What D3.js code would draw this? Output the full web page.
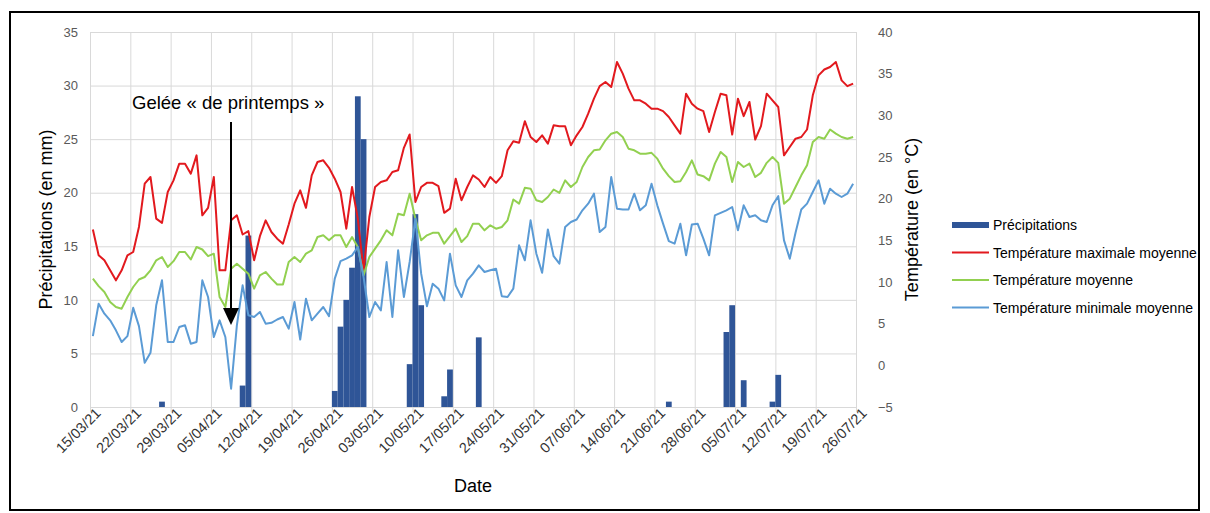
<!DOCTYPE html>
<html>
<head>
<meta charset="utf-8">
<script src="https://cdn.jsdelivr.net/npm/d3@7"></script>
<style>
  body { margin: 0; background: #fff; }
  svg text { font-family: "Liberation Sans", Arial, sans-serif; }
</style>
</head>
<body>
<svg id="chart"></svg>
<script>
// daily values, 15/03/21 onwards
const startDate = new Date(2021, 2, 15);
const tickLabels = ['15/03/21', '22/03/21', '29/03/21', '05/04/21', '12/04/21', '19/04/21', '26/04/21',
  '03/05/21', '10/05/21', '17/05/21', '24/05/21', '31/05/21', '07/06/21', '14/06/21', '21/06/21',
  '28/06/21', '05/07/21', '12/07/21', '19/07/21', '26/07/21'];

const tMax = [
  16.3, 13.2, 12.6, 11.4, 10.2, 11.4, 13.2, 13.6, 16.6, 21.8,
  22.6, 17.6, 17.1, 20.8, 22.2, 24.2, 24.2, 23.0, 25.2, 18.0,
  18.9, 22.6, 11.4, 11.4, 17.4, 18.0, 15.7, 16.1, 12.6, 15.5,
  17.4, 16.0, 15.2, 14.6, 16.9, 19.4, 21.0, 18.9, 22.8, 24.4,
  24.6, 23.7, 22.4, 20.8, 16.4, 21.4, 17.6, 11.4, 17.8, 21.4,
  22.0, 22.2, 23.2, 23.4, 26.1, 27.7, 19.6, 21.4, 21.9, 21.9,
  21.5, 18.3, 18.8, 22.4, 19.8, 21.4, 22.8, 22.3, 21.4, 22.6,
  21.9, 22.7, 25.8, 26.9, 26.7, 29.3, 27.4, 26.8, 27.6, 26.6,
  28.8, 28.7, 28.7, 26.4, 27.6, 28.6, 30.2, 32.0, 33.5, 34.0,
  33.4, 36.4, 35.0, 33.2, 31.8, 31.8, 31.4, 30.8, 30.8, 30.5,
  29.8, 28.8, 27.8, 32.6, 31.4, 30.8, 30.5, 28.0, 30.4, 32.6,
  32.4, 27.7, 32.0, 29.9, 31.6, 27.1, 28.7, 32.6, 31.8, 31.0,
  25.2, 26.2, 27.2, 27.4, 28.3, 32.4, 34.8, 35.5, 35.8, 36.4,
  34.2, 33.5, 33.8
];

const tMoy = [
  10.4, 9.5, 8.8, 7.6, 7.0, 6.8, 8.2, 9.4, 10.3, 10.6,
  11.4, 12.6, 13.0, 11.8, 12.5, 13.6, 13.6, 12.7, 14.2, 13.9,
  13.1, 13.4, 8.2, 7.0, 11.6, 12.2, 11.6, 11.0, 9.2, 10.8,
  11.2, 10.4, 9.7, 9.7, 12.4, 13.0, 12.4, 13.4, 13.8, 15.4,
  15.6, 15.0, 15.6, 15.6, 14.2, 15.4, 14.2, 10.8, 13.0, 14.0,
  15.0, 16.2, 15.6, 18.2, 18.0, 20.6, 17.6, 15.0, 15.6, 15.9,
  15.9, 14.6, 15.5, 16.4, 14.8, 15.5, 17.0, 17.0, 16.2, 16.8,
  16.4, 16.6, 17.4, 19.9, 19.4, 21.3, 21.2, 19.8, 19.6, 20.2,
  21.1, 20.7, 22.2, 21.4, 22.0, 23.8, 25.0, 25.8, 25.9, 27.0,
  27.8, 28.0, 27.4, 26.0, 25.8, 25.4, 25.4, 25.5, 24.8, 23.6,
  22.7, 22.0, 22.1, 23.2, 24.6, 22.9, 22.7, 22.2, 24.2, 25.6,
  25.0, 22.0, 24.4, 23.8, 24.2, 22.6, 23.1, 24.3, 25.0, 24.3,
  19.4, 20.0, 21.4, 22.8, 24.0, 26.8, 27.4, 27.2, 28.3, 27.8,
  27.4, 27.2, 27.4
];

const tMin = [
  3.5, 7.4, 6.2, 5.4, 4.2, 2.8, 3.5, 6.9, 4.7, 0.3,
  1.5, 7.2, 10.2, 2.8, 2.8, 4.6, 4.8, 2.6, 2.8, 10.2,
  8.2, 3.4, 5.4, 3.4, -2.8, 4.8, 9.6, 6.0, 5.8, 6.4,
  5.0, 5.1, 5.5, 5.8, 4.4, 7.6, 3.1, 8.0, 5.4, 6.2,
  7.0, 5.9, 10.4, 12.5, 12.8, 13.2, 14.2, 10.6, 5.8, 7.6,
  6.6, 12.4, 5.8, 13.8, 8.2, 12.4, 17.6, 11.0, 7.1, 9.8,
  9.2, 7.8, 13.4, 9.6, 8.2, 10.2, 11.0, 12.0, 11.2, 11.4,
  11.6, 8.3, 8.2, 9.2, 14.4, 12.6, 17.4, 13.4, 11.1, 16.3,
  13.1, 12.2, 16.6, 17.2, 17.5, 18.6, 19.4, 20.6, 16.0, 16.6,
  22.6, 18.8, 18.7, 18.7, 20.6, 18.6, 19.2, 21.8, 19.2, 17.0,
  14.9, 14.6, 17.0, 13.2, 16.9, 17.0, 15.2, 13.2, 18.0, 18.3,
  18.6, 19.0, 16.2, 19.2, 17.8, 18.0, 17.4, 17.2, 19.2, 20.3,
  15.0, 12.8, 15.9, 18.7, 19.4, 20.8, 22.2, 19.4, 21.2, 20.6,
  20.2, 20.6, 21.8
];

const precip = [
  0, 0, 0, 0, 0, 0, 0, 0, 0, 0,
  0, 0, 0.5, 0, 0, 0, 0, 0, 0, 0,
  0, 0, 0, 0, 0, 0, 2, 16, 0, 0,
  0, 0, 0, 0, 0, 0, 0, 0, 0, 0,
  0, 0, 1.5, 7.5, 10, 13, 29, 25, 0, 0,
  0, 0, 0, 0, 0, 4, 18, 9.5, 0, 0,
  0, 1, 3.5, 0, 0, 0, 0, 6.5, 0, 0,
  0, 0, 0, 0, 0, 0, 0, 0, 0, 0,
  0, 0, 0, 0, 0, 0, 0, 0, 0, 0,
  0, 0, 0, 0, 0, 0, 0, 0, 0, 0,
  0.5, 0, 0, 0, 0, 0, 0, 0, 0, 0,
  7, 9.5, 0, 2.5, 0, 0, 0, 0, 0.5, 3,
  0, 0, 0, 0, 0, 0, 0, 0, 0, 0,
  0, 0, 0
];

const precipTicks = [0, 5, 10, 15, 20, 25, 30, 35];
const tempTicks = [-5, 0, 5, 10, 15, 20, 25, 30, 35, 40];

const seriesNames = ['Précipitations', 'Température maximale moyenne', 'Température moyenne', 'Température minimale moyenne'];
const seriesColors = ['#2f5597', '#e2191e', '#92d050', '#5b9bd5'];

const W = 1210, H = 513;
const margin = {top: 32, right: 354, bottom: 106, left: 90};
const innerW = W - margin.left - margin.right;
const innerH = H - margin.top - margin.bottom;

const parseDay = d3.timeParse('%d/%m/%y');
const dayDate = i => new Date(2021, 2, 15 + i, 12);   // points sit mid-day

const svg = d3.select('#chart').attr('width', W).attr('height', H);

// outer frame
svg.append('rect')
  .attr('x', 10).attr('y', 12).attr('width', 1189).attr('height', 498)
  .attr('fill', 'none').attr('stroke', '#000').attr('stroke-width', 2);

const g = svg.append('g').attr('transform', `translate(${margin.left},${margin.top})`);

const x = d3.scaleTime()
  .domain([startDate, parseDay('26/07/21')])
  .range([0, innerW]);
const yP = d3.scaleLinear().domain([0, 35]).range([innerH, 0]);
const yT = d3.scaleLinear().domain([-5, 40]).range([innerH, 0]);

const tickDates = tickLabels.map(parseDay);

// gridlines
g.append('g')
  .call(d3.axisLeft(yP).tickValues(precipTicks).tickSize(-innerW).tickFormat(''))
  .call(s => s.select('.domain').remove())
  .selectAll('line').attr('stroke', '#d9d9d9');
g.append('g')
  .attr('transform', `translate(0,${innerH})`)
  .call(d3.axisBottom(x).tickValues(tickDates).tickSize(-innerH).tickFormat(''))
  .call(s => s.select('.domain').remove())
  .selectAll('line').attr('stroke', '#d9d9d9');

// x axis with rotated labels
const xAxisG = g.append('g')
  .attr('transform', `translate(0,${innerH})`)
  .call(d3.axisBottom(x).tickValues(tickDates).tickSize(5).tickFormat(d3.timeFormat('%d/%m/%y')));
xAxisG.select('.domain').attr('stroke', '#d9d9d9');
xAxisG.selectAll('line').attr('stroke', '#d9d9d9');
xAxisG.selectAll('text')
  .attr('font-size', 14.5).attr('fill', '#333')
  .attr('text-anchor', 'end')
  .attr('dx', '3').attr('dy', '5')
  .attr('transform', 'rotate(-45)');

// left axis
const yLeft = g.append('g')
  .call(d3.axisLeft(yP).tickValues(precipTicks).tickSize(0).tickPadding(12));
yLeft.select('.domain').remove();
yLeft.selectAll('text').attr('font-size', 13).attr('fill', '#595959');

// right axis
const yRight = g.append('g')
  .attr('transform', `translate(${innerW},0)`)
  .call(d3.axisRight(yT).tickValues(tempTicks).tickSize(0).tickPadding(22));
yRight.select('.domain').remove();
yRight.selectAll('text').attr('font-size', 13).attr('fill', '#595959');

// precipitation bars
const dayW = x(dayDate(1)) - x(dayDate(0));
g.selectAll('.bar')
  .data(precip.map((v, i) => ({i, v})).filter(d => d.v > 0))
  .join('rect')
  .attr('class', 'bar')
  .attr('x', d => x(dayDate(d.i)) - dayW / 2)
  .attr('width', dayW)
  .attr('y', d => yP(d.v))
  .attr('height', d => innerH - yP(d.v))
  .attr('fill', seriesColors[0]);

// temperature lines
const line = d3.line().x((d, i) => x(dayDate(i))).y(d => yT(d));
[tMax, tMoy, tMin].forEach((s, k) => {
  g.append('path')
    .datum(s)
    .attr('d', line)
    .attr('fill', 'none')
    .attr('stroke', seriesColors[k + 1])
    .attr('stroke-width', 2)
    .attr('stroke-linejoin', 'round');
});

// axis titles
svg.append('text')
  .attr('transform', `translate(52,${margin.top + innerH / 2}) rotate(-90)`)
  .attr('text-anchor', 'middle').attr('font-size', 18)
  .text('Précipitations (en mm)');
svg.append('text')
  .attr('transform', `translate(918,${margin.top + innerH / 2}) rotate(-90)`)
  .attr('text-anchor', 'middle').attr('font-size', 18)
  .text('Température (en °C)');
svg.append('text')
  .attr('x', 473).attr('y', 492)
  .attr('text-anchor', 'middle').attr('font-size', 18)
  .text('Date');

// frost annotation
svg.append('text')
  .attr('x', 132).attr('y', 109).attr('font-size', 18.5)
  .text('Gelée « de printemps »');
svg.append('line')
  .attr('x1', 231).attr('x2', 231).attr('y1', 122).attr('y2', 310)
  .attr('stroke', '#000').attr('stroke-width', 2);
svg.append('path')
  .attr('d', 'M223,308 L239,308 L231,325 Z')
  .attr('fill', '#000');

// legend
const legend = svg.append('g').attr('transform', 'translate(952,225)');
seriesNames.forEach((name, k) => {
  const row = legend.append('g').attr('transform', `translate(0,${k * 27.5})`);
  if (k === 0) {
    row.append('rect').attr('x', 0).attr('y', -3).attr('width', 37).attr('height', 6).attr('fill', seriesColors[0]);
  } else {
    row.append('line').attr('x1', 0).attr('x2', 37).attr('y1', 0).attr('y2', 0)
      .attr('stroke', seriesColors[k]).attr('stroke-width', 2);
  }
  row.append('text').attr('x', 41).attr('y', 5).attr('font-size', 14).text(name);
});
</script>
</body>
</html>
